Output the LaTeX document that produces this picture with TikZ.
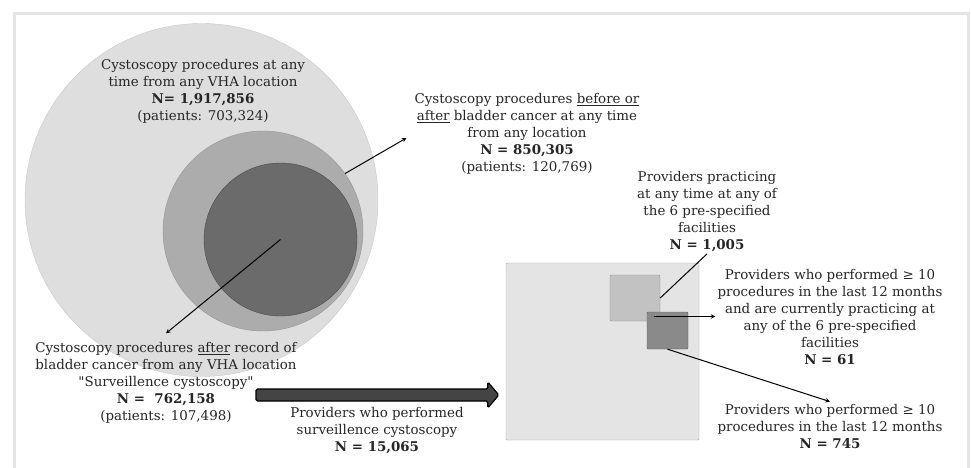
\documentclass[tikz,border=0pt]{standalone}
\usepackage{fontspec}
\setmainfont{DejaVu Serif}
\usepackage{tikz}
\usetikzlibrary{shapes.geometric, arrows, calc}
\definecolor{txtgray}{HTML}{262626}
\tikzstyle{lbl} = [align=center, text=txtgray, inner sep=2pt, font=\fontsize{13.4}{17}\selectfont]
\tikzstyle{setA} = [circle, fill={rgb,255:red,222;green,222;blue,222}, draw={rgb,255:red,200;green,200;blue,200}, inner sep=0pt]
\tikzstyle{setB} = [circle, fill={rgb,255:red,172;green,172;blue,172}, draw={rgb,255:red,150;green,150;blue,150}, inner sep=0pt]
\tikzstyle{setC} = [circle, fill={rgb,255:red,107;green,107;blue,107}, draw={rgb,255:red,74;green,74;blue,74}, inner sep=0pt]
\tikzstyle{boxA} = [rectangle, rounded corners=1pt, fill={rgb,255:red,228;green,228;blue,228}, draw={rgb,255:red,168;green,168;blue,168}, inner sep=0pt]
\tikzstyle{boxB} = [rectangle, rounded corners=1pt, fill={rgb,255:red,194;green,194;blue,194}, draw={rgb,255:red,143;green,143;blue,143}, inner sep=0pt]
\tikzstyle{boxC} = [rectangle, rounded corners=1pt, fill={rgb,255:red,138;green,138;blue,138}, draw={rgb,255:red,95;green,95;blue,95}, inner sep=0pt]
\tikzstyle{pointer} = [line width=1pt,->,>=stealth]
\tikzstyle{flow} = [fill={rgb,255:red,68;green,68;blue,68}, draw=black, line width=1.2pt, rounded corners=1.5pt]
\begin{document}
\begin{tikzpicture}[x=1pt, y=-1pt]
	\clip (0,0) rectangle (971,468);
	\fill[white] (0,0) rectangle (971,468);
	\draw[line width=3pt, draw={rgb,255:red,229;green,229;blue,229}] (14.5,13.5) rectangle (968,500);
	% circles
	\node (outer) [setA, minimum size=353pt] at (201.5,200) {};
	\node (mid) [setB, minimum size=200pt] at (263,231) {};
	\node (inner) [setC, minimum size=153pt] at (280.5,239.5) {};
	% squares
	\node (bigsq) [boxA, minimum width=193pt, minimum height=177pt] at (602.5,351.5) {};
	\node (lsq) [boxB, minimum width=50pt, minimum height=46pt] at (635,298) {};
	\node (dsq) [boxC, minimum width=41pt, minimum height=37pt] at (667.5,330.5) {};
	% labels
	\node (anyproc) [lbl] at (203,91) {Cystoscopy procedures at any\\time from any VHA location\\\textbf{N= 1,917,856}\\(patients: 703,324)};
	\node (bladder) [lbl] at (527,134) {Cystoscopy procedures \underline{before or}\\\underline{after} bladder cancer at any time\\from any location\\\textbf{N = 850,305}\\(patients: 120,769)};
	\node (surv) [lbl] at (166,383) {Cystoscopy procedures \underline{after} record of\\bladder cancer from any VHA location\\\textquotedbl Surveillence cystoscopy\textquotedbl\\\textbf{N =~~762,158}\\(patients: 107,498)};
	\node (provs) [lbl] at (377,431) {Providers who performed\\surveillence cystoscopy\\\textbf{N = 15,065}};
	\node (facil) [lbl] at (707,211.5) {Providers practicing\\at any time at any of\\the 6 pre-specified\\facilities\\\textbf{N = 1,005}};
	\node (both61) [lbl] at (830,317.5) {Providers who performed ≥ 10\\procedures in the last 12 months\\and are currently practicing at\\any of the 6 pre-specified\\facilities\\\textbf{N = 61}};
	\node (high) [lbl] at (830,426) {Providers who performed ≥ 10\\procedures in the last 12 months\\\textbf{N = 745}};
	% connectors
	\draw [pointer] (mid.35) -- ([xshift=-6pt, yshift=-4pt]bladder.west);
	\draw [pointer] (inner.center) -- ([yshift=7pt]surv.north);
	\draw [line width=1pt] (lsq.east) -- (facil.south);
	\coordinate (overlap) at ($(lsq.south east)!0.5!(dsq.north west)$);
	\draw [pointer] (overlap) -- (overlap -| both61.west);
	\draw [pointer] (dsq.south) -- (high.north);
	% big arrow
	\coordinate (flowS) at (256,395);
	\coordinate (flowE) at ($(bigsq.west |- flowS)+(-7,0)$);
	\draw [flow] ([yshift=6pt]flowS) -- ([xshift=-11pt, yshift=6pt]flowE) -- ([xshift=-11pt, yshift=13pt]flowE) -- (flowE) -- ([xshift=-11pt, yshift=-13pt]flowE) -- ([xshift=-11pt, yshift=-6pt]flowE) -- ([yshift=-6pt]flowS) -- cycle;
\end{tikzpicture}
\end{document}
